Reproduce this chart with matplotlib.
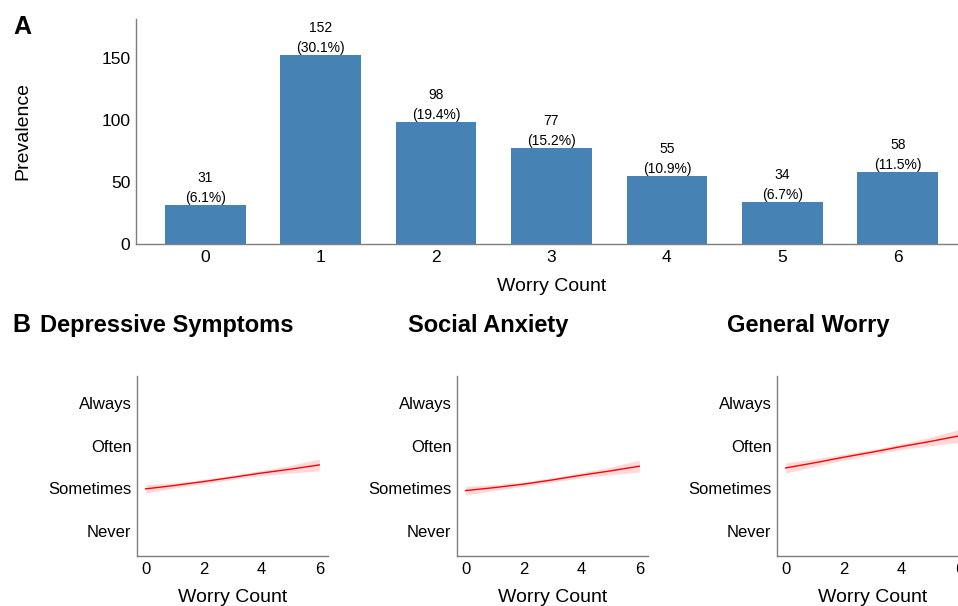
import matplotlib
matplotlib.use("Agg")
import matplotlib.pyplot as plt

plt.rcParams['font.family'] = ['Liberation Sans', 'DejaVu Sans']

# panel A data
worry_count = [0, 1, 2, 3, 4, 5, 6]
prevalence = [31, 152, 98, 77, 55, 34, 58]
percent = ['6.1%', '30.1%', '19.4%', '15.2%', '10.9%', '6.7%', '11.5%']

# panel B data (1 = Never ... 4 = Always)
levels = ['Never', 'Sometimes', 'Often', 'Always']
x_fit = [0, 1, 2, 3, 4, 5, 6]
dep_fit = [1.99, 2.07, 2.16, 2.26, 2.36, 2.45, 2.55]
dep_lo = [1.89, 2.01, 2.11, 2.21, 2.30, 2.36, 2.41]
dep_hi = [2.09, 2.13, 2.21, 2.31, 2.42, 2.54, 2.69]
soc_fit = [1.95, 2.02, 2.10, 2.20, 2.31, 2.41, 2.52]
soc_lo = [1.85, 1.95, 2.05, 2.15, 2.25, 2.32, 2.38]
soc_hi = [2.05, 2.09, 2.15, 2.25, 2.37, 2.50, 2.66]
gen_fit = [2.48, 2.60, 2.73, 2.85, 2.98, 3.10, 3.23]
gen_lo = [2.36, 2.51, 2.66, 2.79, 2.91, 3.00, 3.08]
gen_hi = [2.60, 2.69, 2.80, 2.91, 3.05, 3.20, 3.38]

spine_col = '#7f7f7f'

fig = plt.figure(figsize=(9.58, 6.06), dpi=100)


def style(ax):
    for s in ['top', 'right']:
        ax.spines[s].set_visible(False)
    for s in ['left', 'bottom']:
        ax.spines[s].set_color(spine_col)
        ax.spines[s].set_linewidth(1.0)
    ax.tick_params(length=0, colors='black', labelsize=12.5)
    ax.tick_params(axis='x', pad=4)
    ax.tick_params(axis='y', pad=4)


# ---- panel A ----
axA = fig.add_axes([136 / 958, 362 / 606, 831 / 958, 225 / 606])
axA.bar(worry_count, prevalence, width=0.7, color='#4682B4')
for x, v, p in zip(worry_count, prevalence, percent):
    axA.text(x, v, f'{v}\n({p})', ha='center', va='bottom',
             fontsize=10, linespacing=1.55)
axA.set_xlim(-0.6, 6.6)
axA.set_ylim(0, 181)
axA.set_xticks(worry_count)
axA.set_yticks([0, 50, 100, 150])
style(axA)
axA.set_xlabel('Worry Count', fontsize=14, labelpad=10)
axA.set_ylabel('Prevalence', fontsize=14)
axA.yaxis.set_label_coords(-0.126, 0.5)
fig.text(13 / 958, 1 - 34 / 606, 'A', fontsize=18, fontweight='bold',
         va='baseline', ha='left')

# ---- panel B ----
panels = [
    ('Depressive Symptoms', dep_fit, dep_lo, dep_hi, 137, 40),
    ('Social Anxiety', soc_fit, soc_lo, soc_hi, 457, 408),
    ('General Worry', gen_fit, gen_lo, gen_hi, 777, 727),
]
for title, fit, lo, hi, left, tx in panels:
    ax = fig.add_axes([left / 958, 50 / 606, 191 / 958, 180 / 606])
    ax.fill_between(x_fit, lo, hi, color='red', alpha=0.15, linewidth=0)
    ax.plot(x_fit, fit, color='red', linewidth=1.0)
    ax.set_xlim(-0.3, 6.3)
    ax.set_ylim(0.42, 4.63)
    ax.set_xticks([0, 2, 4, 6])
    ax.set_yticks([1, 2, 3, 4])
    ax.set_yticklabels(levels)
    style(ax)
    ax.tick_params(labelsize=12)
    ax.set_xlabel('Worry Count', fontsize=14, labelpad=9)
    fig.text(tx / 958, 1 - 332 / 606, title, fontsize=17, fontweight='bold',
             va='baseline', ha='left')

fig.text(12 / 958, 1 - 332 / 606, 'B', fontsize=18, fontweight='bold',
         va='baseline', ha='left')

fig.savefig('out.png', dpi=100)
